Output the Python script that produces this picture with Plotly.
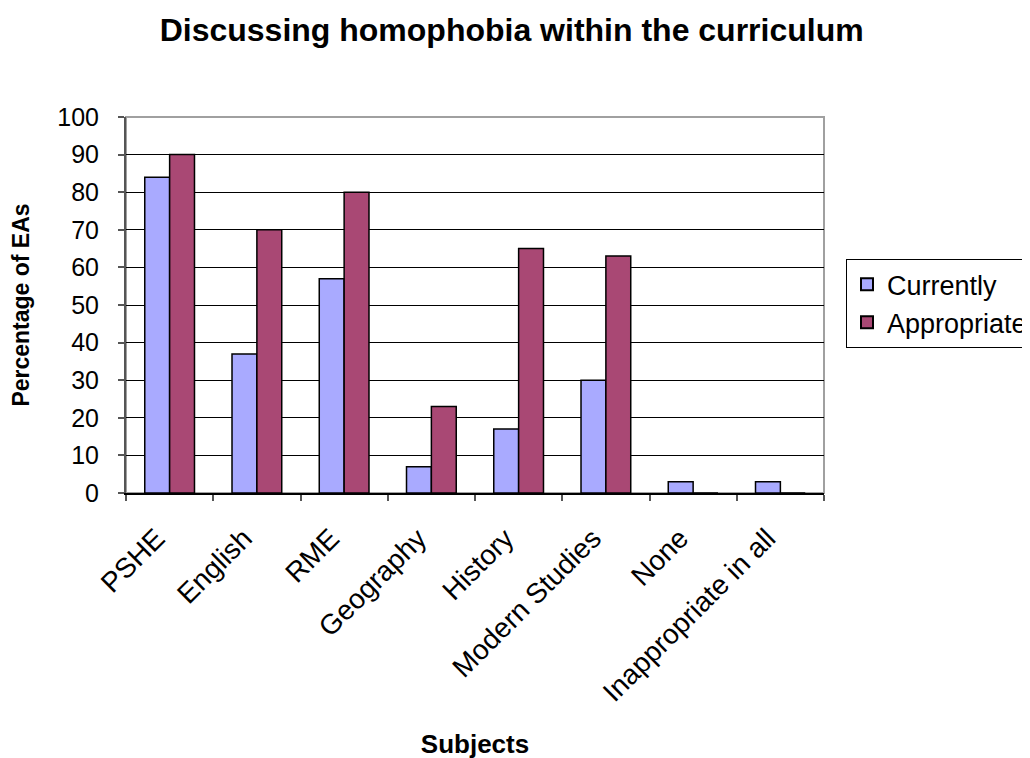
import plotly.graph_objects as go

categories = ["PSHE", "English", "RME", "Geography", "History", "Modern Studies", "None", "Inappropriate in all"]
currently = [84, 37, 57, 7, 17, 30, 3, 3]
appropriate = [90, 70, 80, 23, 65, 63, 0, 0]

FONT = "Liberation Sans, Arial, sans-serif"

fig = go.Figure()
fig.add_trace(go.Bar(name="Currently", x=categories, y=currently,
                     marker=dict(color="#A9AAFF", line=dict(color="#000000", width=1.5))))
fig.add_trace(go.Bar(name="Appropriate", x=categories, y=appropriate,
                     marker=dict(color="#A94874", line=dict(color="#000000", width=1.5))))

fig.update_layout(
    width=1030, height=758,
    margin=dict(l=118, r=214, t=109, b=273, autoexpand=False),
    paper_bgcolor="white", plot_bgcolor="white",
    barmode="group", bargap=0.43, bargroupgap=0,
    font=dict(family=FONT, color="black", size=25),
    title=dict(text="<b>Discussing homophobia within the curriculum</b>",
               x=0.489, xanchor="center", y=0.971, yanchor="middle",
               font=dict(size=32, family=FONT, color="black")),
    legend=dict(x=1.0315, xanchor="left", y=0.622, yanchor="top",
                bordercolor="black", borderwidth=1, bgcolor="white",
                font=dict(size=27, family=FONT), tracegroupgap=0,
                itemsizing="constant"),
    showlegend=True,
)

fig.update_xaxes(
    type="category", tickangle=-45, tickson="boundaries",
    ticks="outside", ticklen=6, tickcolor="#555555", tickwidth=1.5,
    showline=True, linecolor="black", linewidth=1.5,
    showgrid=False, ticklabelstandoff=16, ticklabelshift=-13,
    tickfont=dict(size=28, family=FONT),
    title=dict(text="<b>Subjects</b>", font=dict(size=26, family=FONT), standoff=28),
)
fig.update_yaxes(
    range=[0, 100], dtick=10, tick0=0,
    ticks="outside", ticklen=6, tickcolor="#555555", tickwidth=1.5,
    showline=True, linecolor="#555555", linewidth=2,
    showgrid=True, gridcolor="black", gridwidth=1,
    zeroline=False, ticklabelstandoff=14,
    tickfont=dict(size=25, family=FONT),
    title=dict(text="<b>Percentage of EAs</b>", font=dict(size=23, family=FONT), standoff=22),
)

fig.add_shape(type="rect", xref="paper", yref="paper", x0=0, x1=1, y0=0, y1=1,
              line=dict(color="#A0A0A0", width=2), layer="below")

fig.write_html("out.html")
